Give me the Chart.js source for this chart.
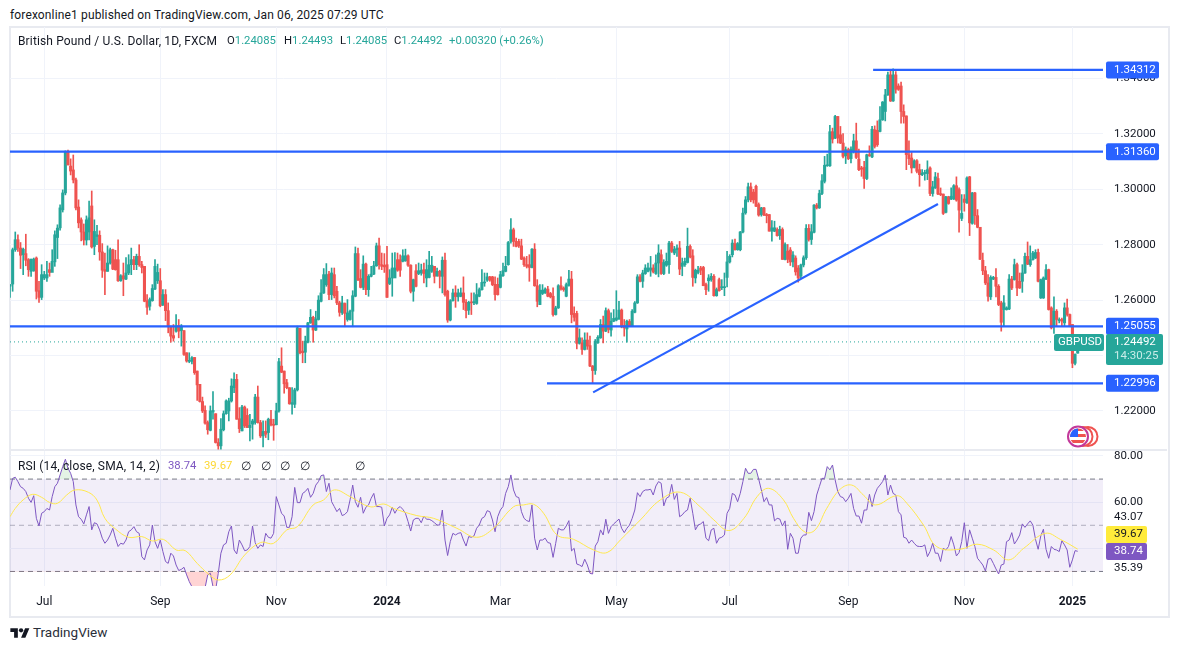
<!DOCTYPE html>
<html>
<head>
<meta charset="utf-8">
<title>GBPUSD</title>
<script src="https://cdn.jsdelivr.net/npm/chart.js@4"></script>
<style>
  html, body { margin: 0; padding: 0; background: #fff; }
  body { width: 1177px; height: 650px; overflow: hidden; position: relative; font-family: Roboto, sans-serif; color: #131722; }
  .t { position: absolute; font-size: 12px; line-height: 14px; white-space: pre; }
  .wide { letter-spacing: 0.14px; }
  .val { font-size: 11.3px; }
  canvas { position: absolute; }
  #frame { position: absolute; left: 9px; top: 26px; width: 1157px; height: 588px; border: 2px solid #e8eaf0; }
  #sep { position: absolute; left: 10px; top: 449px; width: 1157px; height: 2px; background: #e8eaf0; }
  .up { color: #26a69a; }
</style>
</head>
<body>
<div id="frame"></div>
<div id="sep"></div>
<canvas id="priceChart" style="left:10px;top:27px" width="1157" height="423"></canvas>
<canvas id="rsiChart" style="left:10px;top:451px" width="1157" height="164"></canvas>

<div class="t wide" style="left:10px;top:8px">forexonline1 published on TradingView.com, Jan 06, 2025 07:29 UTC</div>
<div class="t wide" style="left:18px;top:34px">British Pound / U.S. Dollar, 1D, FXCM</div>
<div class="t val" style="left:227px;top:34px">O<span class="up">1.24085</span></div>
<div class="t val" style="left:284px;top:34px">H<span class="up">1.24493</span></div>
<div class="t val" style="left:340px;top:34px">L<span class="up">1.24085</span></div>
<div class="t val" style="left:394px;top:34px">C<span class="up">1.24492</span></div>
<div class="t val up" style="left:449px;top:34px">+0.00320 (+0.26%)</div>

<div class="t wide" style="left:18px;top:459px">RSI (14, close, SMA, 14, 2)</div>
<div class="t val" style="left:168px;top:459px;color:#7e57c2">38.74</div>
<div class="t val" style="left:204px;top:459px;color:#fdd835">39.67</div>
<div class="t" style="left:241px;top:459px">∅</div>
<div class="t" style="left:261px;top:459px">∅</div>
<div class="t" style="left:280px;top:459px">∅</div>
<div class="t" style="left:300px;top:459px">∅</div>
<div class="t" style="left:355px;top:459px">∅</div>

<svg style="position:absolute;left:10px;top:626px" width="20" height="15" viewBox="0 0 36 28"><path fill="#131722" d="M14 22H7V11H0V4h14v18zM28 22h-8l7.5-18h8L28 22z"/><circle fill="#131722" cx="20" cy="8" r="4"/></svg>
<div class="t" style="left:33px;top:624px;font-size:13.5px;line-height:16px;color:#2a2e39">TradingView</div>

<svg style="position:absolute;left:1066px;top:425px" width="34" height="24" viewBox="0 0 34 24">
  <circle cx="22" cy="11.5" r="9.5" fill="#fff" stroke="#ef5350" stroke-width="2"/>
  <circle cx="17" cy="11.5" r="9.5" fill="#fff" stroke="#ef5350" stroke-width="2"/>
  <circle cx="12" cy="11.5" r="10" fill="#fff" stroke="#c2389a" stroke-width="2"/>
  <clipPath id="flag"><circle cx="12" cy="11.5" r="8"/></clipPath>
  <g clip-path="url(#flag)">
    <rect x="3" y="3" width="18" height="3" fill="#ef5350"/>
    <rect x="3" y="9" width="18" height="3" fill="#ef5350"/>
    <rect x="3" y="15" width="18" height="3" fill="#ef5350"/>
    <rect x="3" y="3" width="9" height="9" fill="#2962ff"/>
  </g>
</svg>

<script>
// daily candles (one value per trading day, Jun 2023 - Jan 6 2025)
const opens = [
1.2650,1.2658,1.2782,1.2818,1.2788,1.2764,1.2768,1.2746,1.2704,1.2706,
1.2752,1.2634,1.2610,1.2680,1.2680,1.2710,1.2700,1.2738,1.2826,1.2861,
1.2926,1.2987,1.3135,1.3084,1.3070,1.3034,1.2936,1.2890,1.2846,1.2817,
1.2846,1.2940,1.2794,1.2830,1.2834,1.2774,1.2710,1.2704,1.2734,1.2782,
1.2746,1.2746,1.2670,1.2688,1.2676,1.2698,1.2728,1.2746,1.2728,1.2758,
1.2728,1.2722,1.2598,1.2578,1.2598,1.2640,1.2670,1.2670,1.2584,1.2620,
1.2562,1.2506,1.2472,1.2488,1.2508,1.2490,1.2490,1.2410,1.2379,1.2379,
1.2393,1.2344,1.2296,1.2234,1.2202,1.2158,1.2130,1.2196,1.2190,1.2086,
1.2074,1.2132,1.2190,1.2200,1.2236,1.2284,1.2314,1.2172,1.2128,1.2214,
1.2184,1.2140,1.2152,1.2158,1.2250,1.2158,1.2110,1.2126,1.2122,1.2170,
1.2152,1.2150,1.2200,1.2362,1.2344,1.2302,1.2284,1.2224,1.2224,1.2276,
1.2498,1.2416,1.2412,1.2448,1.2518,1.2538,1.2492,1.2530,1.2596,1.2626,
1.2656,1.2694,1.2620,1.2692,1.2632,1.2590,1.2554,1.2588,1.2530,1.2530,
1.2560,1.2614,1.2768,1.2678,1.2646,1.2730,1.2638,1.2686,1.2694,1.2724,
1.2796,1.2728,1.2726,1.2728,1.2660,1.2680,1.2680,1.2746,1.2746,1.2740,
1.2742,1.2760,1.2726,1.2632,1.2706,1.2696,1.2698,1.2710,1.2680,1.2682,
1.2704,1.2722,1.2688,1.2704,1.2686,1.2744,1.2632,1.2528,1.2598,1.2626,
1.2612,1.2614,1.2626,1.2592,1.2564,1.2592,1.2591,1.2588,1.2614,1.2638,
1.2662,1.2672,1.2684,1.2684,1.2657,1.2657,1.2646,1.2688,1.2704,1.2728,
1.2812,1.2854,1.2812,1.2812,1.2796,1.2752,1.2728,1.2728,1.2718,1.2784,
1.2652,1.2584,1.2624,1.2626,1.2640,1.2624,1.2614,1.2548,1.2572,1.2652,
1.2644,1.2614,1.2653,1.2676,1.2552,1.2552,1.2444,1.2446,1.2422,1.2456,
1.2436,1.2362,1.2346,1.2446,1.2464,1.2512,1.2488,1.2562,1.2492,1.2524,
1.2528,1.2532,1.2564,1.2508,1.2496,1.2523,1.2506,1.2556,1.2590,1.2684,
1.2668,1.2696,1.2704,1.2708,1.2716,1.2696,1.2734,1.2764,1.2696,1.2726,
1.2728,1.2806,1.2770,1.2782,1.2788,1.2722,1.2728,1.2736,1.2794,1.2760,
1.2680,1.2700,1.2716,1.2718,1.2656,1.2670,1.2674,1.2686,1.2616,1.2674,
1.2645,1.2645,1.2682,1.2738,1.2764,1.2804,1.2782,1.2782,1.2846,1.2915,
1.2962,1.3009,1.2990,
1.3011,1.2945,1.2909,1.2933,1.2909,1.2909,1.2849,1.2849,1.2855,1.2833,
1.2855,1.2747,1.2777,1.2781,1.2738,1.2752,1.2716,1.2687,1.2727,1.2753,
1.2859,1.2819,1.2845,1.2943,1.2933,1.2985,1.3029,1.3085,1.3085,1.3208,
1.3185,1.3263,1.3197,1.3167,1.3121,1.3143,1.3111,1.3137,1.3175,1.3109,
1.3077,1.3079,1.3039,1.3125,1.3117,1.3215,1.3213,1.3209,1.3251,1.3281,
1.3341,1.3413,1.3319,1.3413,1.3373,1.3373,1.3281,1.3265,1.3125,1.3113,
1.3079,1.3103,1.3071,1.3053,1.3057,1.3057,1.3077,1.2985,1.3005,1.3039,
1.2983,1.2983,1.2917,1.2973,1.2965,1.2965,1.3013,1.2999,1.2895,1.2965,
1.2951,1.3045,1.2877,1.2987,1.2905,1.2863,
1.2744,1.2706,1.2662,1.2612,1.2676,1.2682,1.2650,1.2590,1.2566,1.2566,
1.2568,1.2676,1.2674,1.2728,1.2668,1.2668,1.2698,1.2758,1.2728,1.2746,
1.2752,1.2772,1.2608,1.2608,1.2676,1.2710,1.2572,1.2506,1.2560,1.2526,
1.2530,1.2518,1.2572,1.2548,1.2512,1.2372,1.24085
];
const highs = [
1.2656,1.2788,1.2846,1.2836,1.2808,1.2788,1.2838,1.2750,1.2748,1.2752,
1.2756,1.2668,1.2728,1.2704,1.2740,1.2734,1.2782,1.2850,1.2872,1.2944,
1.2998,1.3139,1.3142,1.3110,1.3124,1.3041,1.2962,1.2897,1.2875,1.2904,
1.2958,1.2994,1.2890,1.2870,1.2850,1.2804,1.2770,1.2796,1.2788,1.2784,
1.2780,1.2818,1.2692,1.2734,1.2754,1.2764,1.2788,1.2758,1.2766,1.2800,
1.2740,1.2722,1.2620,1.2608,1.2656,1.2746,1.2730,1.2714,1.2638,1.2638,
1.2590,1.2506,1.2512,1.2548,1.2530,1.2512,1.2490,1.2410,1.2410,1.2396,
1.2393,1.2344,1.2296,1.2250,1.2218,1.2164,1.2218,1.2270,1.2190,1.2100,
1.2172,1.2200,1.2240,1.2246,1.2316,1.2338,1.2332,1.2212,1.2220,1.2218,
1.2208,1.2188,1.2170,1.2260,1.2290,1.2166,1.2164,1.2164,1.2174,1.2202,
1.2170,1.2228,1.2390,1.2428,1.2344,1.2314,1.2284,1.2284,1.2282,1.2506,
1.2498,1.2452,1.2470,1.2520,1.2566,1.2542,1.2560,1.2616,1.2674,1.2714,
1.2732,1.2704,1.2716,1.2716,1.2650,1.2596,1.2614,1.2590,1.2602,1.2564,
1.2634,1.2792,1.2788,1.2710,1.2760,1.2734,1.2692,1.2722,1.2740,1.2806,
1.2824,1.2770,1.2768,1.2794,1.2710,1.2770,1.2772,1.2770,1.2764,1.2782,
1.2784,1.2764,1.2728,1.2676,1.2728,1.2734,1.2730,1.2734,1.2746,1.2776,
1.2758,1.2722,1.2716,1.2708,1.2756,1.2770,1.2636,1.2602,1.2640,1.2652,
1.2640,1.2644,1.2684,1.2602,1.2596,1.2626,1.2626,1.2660,1.2644,1.2710,
1.2698,1.2698,1.2686,1.2686,1.2684,1.2680,1.2704,1.2734,1.2758,1.2812,
1.2894,1.2860,1.2824,1.2820,1.2820,1.2756,1.2758,1.2764,1.2786,1.2804,
1.2674,1.2656,1.2656,1.2644,1.2650,1.2628,1.2644,1.2578,1.2656,1.2684,
1.2648,1.2662,1.2708,1.2704,1.2576,1.2560,1.2496,1.2464,1.2482,1.2482,
1.2470,1.2364,1.2458,1.2472,1.2530,1.2542,1.2572,1.2568,1.2554,1.2566,
1.2634,1.2596,1.2568,1.2530,1.2528,1.2530,1.2566,1.2595,1.2692,1.2692,
1.2708,1.2728,1.2734,1.2758,1.2728,1.2764,1.2800,1.2782,1.2746,1.2770,
1.2812,1.2812,1.2794,1.2800,1.2812,1.2752,1.2752,1.2860,1.2800,1.2782,
1.2712,1.2722,1.2722,1.2722,1.2662,1.2692,1.2696,1.2692,1.2644,1.2680,
1.2674,1.2698,1.2776,1.2764,1.2818,1.2820,1.2808,1.2848,1.2932,1.2974,
1.3023,1.3023,1.3000,
1.3015,1.2951,1.2935,1.2935,1.2913,1.2909,1.2887,1.2885,1.2861,1.2867,
1.2861,1.2807,1.2801,1.2790,1.2775,1.2760,1.2725,1.2730,1.2760,1.2873,
1.2873,1.2873,1.2945,1.2949,1.2997,1.3053,1.3119,1.3127,1.3231,1.3221,
1.3267,1.3263,1.3227,1.3201,1.3153,1.3149,1.3153,1.3199,1.3239,1.3145,
1.3083,1.3101,1.3127,1.3157,1.3227,1.3229,1.3247,1.3299,1.3317,1.3361,
1.3423,1.3433,1.3435,1.3425,1.3381,1.3387,1.3305,1.3265,1.3175,1.3133,
1.3107,1.3107,1.3091,1.3071,1.3069,1.3103,1.3081,1.3029,1.3061,1.3059,
1.3005,1.2983,1.2975,1.2975,1.3005,1.3017,1.3045,1.3005,1.2981,1.2981,
1.3045,1.3047,1.2989,1.2989,1.2927,1.2863,
1.2770,1.2722,1.2692,1.2688,1.2686,1.2714,1.2656,1.2596,1.2616,1.2576,
1.2692,1.2686,1.2748,1.2734,1.2698,1.2728,1.2770,1.2810,1.2796,1.2776,
1.2782,1.2784,1.2676,1.2684,1.2728,1.2712,1.2576,1.2612,1.2566,1.2536,
1.2535,1.2590,1.2604,1.2550,1.2512,1.2406,1.24493
];
const lows = [
1.2610,1.2632,1.2776,1.2776,1.2714,1.2692,1.2724,1.2686,1.2686,1.2704,
1.2604,1.2592,1.2602,1.2674,1.2668,1.2686,1.2720,1.2722,1.2750,1.2853,
1.2918,1.2980,1.3088,1.3052,1.3023,1.2926,1.2861,1.2814,1.2799,1.2799,
1.2817,1.2788,1.2764,1.2800,1.2744,1.2682,1.2620,1.2704,1.2730,1.2710,
1.2708,1.2668,1.2668,1.2616,1.2674,1.2692,1.2692,1.2710,1.2710,1.2722,
1.2698,1.2594,1.2548,1.2564,1.2596,1.2638,1.2660,1.2576,1.2580,1.2526,
1.2482,1.2448,1.2452,1.2484,1.2464,1.2434,1.2400,1.2376,1.2374,1.2370,
1.2332,1.2238,1.2232,1.2194,1.2152,1.2116,1.2128,1.2170,1.2084,1.2062,
1.2062,1.2128,1.2188,1.2164,1.2232,1.2266,1.2170,1.2122,1.2128,1.2140,
1.2140,1.2092,1.2098,1.2152,1.2156,1.2104,1.2070,1.2104,1.2096,1.2146,
1.2094,1.2150,1.2196,1.2338,1.2264,1.2280,1.2224,1.2188,1.2212,1.2272,
1.2406,1.2374,1.2374,1.2446,1.2516,1.2448,1.2490,1.2528,1.2594,1.2624,
1.2650,1.2602,1.2602,1.2608,1.2584,1.2542,1.2548,1.2504,1.2524,1.2528,
1.2504,1.2612,1.2670,1.2644,1.2638,1.2620,1.2614,1.2684,1.2692,1.2722,
1.2712,1.2710,1.2700,1.2610,1.2656,1.2614,1.2686,1.2704,1.2686,1.2738,
1.2740,1.2722,1.2626,1.2596,1.2648,1.2692,1.2690,1.2662,1.2648,1.2680,
1.2700,1.2662,1.2686,1.2644,1.2626,1.2614,1.2520,1.2525,1.2596,1.2574,
1.2596,1.2612,1.2566,1.2536,1.2548,1.2548,1.2584,1.2585,1.2612,1.2636,
1.2650,1.2668,1.2668,1.2652,1.2600,1.2618,1.2644,1.2686,1.2702,1.2726,
1.2806,1.2794,1.2792,1.2790,1.2746,1.2722,1.2716,1.2668,1.2716,1.2650,
1.2576,1.2584,1.2620,1.2624,1.2612,1.2608,1.2542,1.2546,1.2570,1.2636,
1.2632,1.2612,1.2650,1.2518,1.2524,1.2424,1.2441,1.2404,1.2420,1.2422,
1.2360,1.2302,1.2332,1.2444,1.2462,1.2446,1.2486,1.2482,1.2470,1.2522,
1.2525,1.2530,1.2500,1.2470,1.2448,1.2504,1.2504,1.2554,1.2588,1.2666,
1.2646,1.2693,1.2702,1.2686,1.2698,1.2693,1.2684,1.2693,1.2692,1.2722,
1.2696,1.2772,1.2764,1.2758,1.2692,1.2688,1.2722,1.2734,1.2752,1.2650,
1.2662,1.2695,1.2692,1.2652,1.2620,1.2632,1.2668,1.2614,1.2614,1.2632,
1.2638,1.2616,1.2648,1.2734,1.2756,1.2780,1.2780,1.2778,1.2843,1.2910,
1.2955,1.2955,1.2950,
1.2937,1.2903,1.2903,1.2905,1.2879,1.2849,1.2813,1.2847,1.2831,1.2819,
1.2747,1.2745,1.2735,1.2725,1.2720,1.2690,1.2665,1.2680,1.2720,1.2747,
1.2813,1.2801,1.2843,1.2929,1.2931,1.2981,1.3023,1.3083,1.3083,1.3167,
1.3183,1.3167,1.3165,1.3113,1.3093,1.3107,1.3095,1.3131,1.3111,1.3067,
1.3047,1.3003,1.3035,1.3119,1.3114,1.3149,1.3155,1.3207,1.3249,1.3247,
1.3339,1.3317,1.3317,1.3347,1.3357,1.3239,1.3239,1.3071,1.3089,1.3059,
1.3077,1.3059,1.3011,1.3049,1.3033,1.3035,1.2977,1.2975,1.3003,1.2981,
1.2977,1.2909,1.2915,1.2946,1.2963,1.2963,1.2957,1.2845,1.2887,1.2921,
1.2949,1.2833,1.2874,1.2873,1.2861,1.2747,
1.2692,1.2656,1.2596,1.2602,1.2674,1.2612,1.2580,1.2488,1.2508,1.2564,
1.2566,1.2638,1.2672,1.2616,1.2642,1.2628,1.2696,1.2728,1.2722,1.2744,
1.2750,1.2666,1.2606,1.2606,1.2674,1.2564,1.2496,1.2480,1.2506,1.2518,
1.2504,1.2506,1.2542,1.2504,1.2356,1.2366,1.24085
];
const closes = [
1.2656,1.2782,1.2818,1.2788,1.2762,1.2784,1.2744,1.2710,1.2748,1.2748,
1.2632,1.2610,1.2692,1.2692,1.2692,1.2700,1.2740,1.2836,1.2860,1.2933,
1.2987,1.3135,1.3088,1.3066,1.3034,1.2933,1.2879,1.2846,1.2817,1.2890,
1.2897,1.2792,1.2848,1.2836,1.2774,1.2708,1.2704,1.2734,1.2782,1.2712,
1.2710,1.2670,1.2688,1.2676,1.2698,1.2728,1.2746,1.2728,1.2758,1.2728,
1.2718,1.2596,1.2574,1.2602,1.2642,1.2722,1.2700,1.2580,1.2620,1.2562,
1.2506,1.2470,1.2463,1.2506,1.2488,1.2506,1.2404,1.2380,1.2382,1.2392,
1.2338,1.2294,1.2234,1.2200,1.2156,1.2132,1.2200,1.2202,1.2086,1.2074,
1.2134,1.2190,1.2236,1.2236,1.2290,1.2314,1.2170,1.2136,1.2214,1.2146,
1.2140,1.2148,1.2164,1.2250,1.2158,1.2110,1.2126,1.2116,1.2170,1.2150,
1.2148,1.2200,1.2378,1.2340,1.2298,1.2284,1.2226,1.2230,1.2276,1.2500,
1.2410,1.2410,1.2452,1.2518,1.2538,1.2492,1.2532,1.2600,1.2626,1.2692,
1.2692,1.2620,1.2698,1.2616,1.2590,1.2556,1.2590,1.2552,1.2554,1.2560,
1.2616,1.2768,1.2674,1.2646,1.2730,1.2638,1.2686,1.2694,1.2724,1.2796,
1.2728,1.2722,1.2720,1.2610,1.2680,1.2716,1.2716,1.2708,1.2708,1.2760,
1.2760,1.2726,1.2632,1.2674,1.2650,1.2706,1.2708,1.2696,1.2710,1.2726,
1.2726,1.2686,1.2704,1.2686,1.2744,1.2620,1.2528,1.2598,1.2626,1.2613,
1.2626,1.2626,1.2592,1.2562,1.2592,1.2590,1.2593,1.2620,1.2638,1.2664,
1.2664,1.2684,1.2672,1.2656,1.2620,1.2620,1.2692,1.2706,1.2722,1.2808,
1.2854,1.2812,1.2794,1.2796,1.2748,1.2728,1.2722,1.2718,1.2784,1.2652,
1.2596,1.2636,1.2636,1.2640,1.2614,1.2612,1.2548,1.2572,1.2652,1.2640,
1.2638,1.2656,1.2676,1.2548,1.2538,1.2444,1.2464,1.2422,1.2456,1.2434,
1.2362,1.2346,1.2452,1.2466,1.2512,1.2488,1.2562,1.2494,1.2524,1.2534,
1.2536,1.2564,1.2504,1.2500,1.2524,1.2506,1.2560,1.2590,1.2684,1.2668,
1.2698,1.2716,1.2716,1.2716,1.2702,1.2734,1.2770,1.2696,1.2736,1.2740,
1.2806,1.2776,1.2784,1.2788,1.2712,1.2734,1.2740,1.2794,1.2756,1.2682,
1.2708,1.2708,1.2708,1.2652,1.2638,1.2680,1.2686,1.2616,1.2638,1.2634,
1.2648,1.2648,1.2738,1.2758,1.2806,1.2782,1.2804,1.2846,1.2914,1.2962,
1.3009,1.2962,1.2962,
1.2939,1.2907,1.2933,1.2907,1.2905,1.2849,1.2861,1.2861,1.2833,1.2855,
1.2747,1.2801,1.2747,1.2738,1.2763,1.2702,1.2680,1.2727,1.2753,1.2859,
1.2819,1.2847,1.2943,1.2933,1.2985,1.3031,1.3087,1.3088,1.3208,1.3181,
1.3263,1.3185,1.3167,1.3119,1.3143,1.3111,1.3145,1.3175,1.3115,1.3071,
1.3073,1.3039,1.3125,1.3121,1.3217,1.3155,1.3161,1.3251,1.3315,1.3341,
1.3413,1.3319,1.3413,1.3361,1.3361,1.3281,1.3263,1.3125,1.3111,1.3077,
1.3103,1.3065,1.3053,1.3059,1.3061,1.3071,1.2985,1.3009,1.3045,1.2983,
1.2981,1.2913,1.2973,1.2949,1.2975,1.3013,1.2961,1.2925,1.2913,1.2953,
1.3041,1.2879,1.2987,1.2905,1.2863,1.2747,
1.2706,1.2662,1.2614,1.2682,1.2682,1.2650,1.2584,1.2520,1.2590,1.2572,
1.2676,1.2644,1.2728,1.2644,1.2644,1.2698,1.2758,1.2730,1.2746,1.2770,
1.2772,1.2668,1.2674,1.2680,1.2710,1.2566,1.2500,1.2560,1.2530,1.2530,
1.2524,1.2572,1.2548,1.2506,1.2372,1.2404,1.24492
];

// RSI (14), read bar by bar from the lower pane
const rsiValues = [
65.3,70.3,70.8,68.9,66.7,66,64.6,61.7,59.9,62.8,
53,49.7,55.2,55.9,57.3,56.6,62.4,66.7,68.2,71.8,
75.4,78.6,74.7,72.5,68.9,58.8,53.7,52.6,50.6,54.5,
58.1,48,51.1,50.6,48,44.4,42.2,43.6,45.8,48.7,
44.4,40.8,42.2,41.8,43.6,47.2,48,49.4,47.2,46.5,
36.4,35,39.3,41.5,50.1,42.9,40,43.6,38.6,34.3,
33.5,37.9,36.7,32.8,30.4,30.9,31.8,28.5,25.6,23.4,
22,22,21,22,23,28.5,29.2,23.4,22,29.2,
37.9,41.5,42.2,47.2,49.7,39.3,37.6,43.6,41.5,39,
39.3,40.8,49.7,42.5,40,41.5,40.8,46.5,44.8,44.4,
46.5,62.4,58.8,55.2,54,49.1,49.1,53.7,66.4,59.8,
59.8,63.8,64.6,66,62.1,63.8,67.4,68.9,71.5,71.8,
64.6,68.2,60.2,58.1,55.9,57.3,54.2,54.7,55.9,61,
67.4,60.2,57.8,62.1,55.2,57.8,58.8,61.7,63.8,58.1,
58.1,57.8,49.7,53,54.5,57.8,55.2,57.3,58.1,56.9,
55.2,51.6,47.5,52.3,53,53,51.1,54,52.6,52.6,
52,51.1,50.1,50.1,56.6,43.6,36.9,42.9,46.5,45.8,
46.5,46.8,43.6,41,45.1,44.8,45.4,48.7,50.1,53,
53.7,56.3,55.9,52.3,47.2,53.7,56.6,58.1,63.8,66.7,
71.8,65.3,62.4,62,55.9,53,52,51.6,58.8,44.4,
39.3,43.6,43.6,44.4,42.5,42.2,36.1,42.2,48.7,48,
48,49.7,52,38.9,40,33.2,32.8,32.1,35.3,32.8,
29.2,28.9,41,42.9,48,45.8,52.6,46.5,49.4,50.6,
51.6,52.7,48.7,46.8,48.7,50.1,53,56.6,64.1,62.4,
64.6,65.3,65.3,65.6,63.1,67,68.9,68.2,58.4,61.7,
62.4,67.7,61.2,63.8,53.7,54.5,55.9,56.6,61.7,55.2,
48,50.1,50.6,51.6,44.4,43.3,48,48.7,42.2,44.4,
44.8,45.8,55.2,57.3,63.8,63.1,60.2,63.8,68.9,74.7,
72.5,72.5,74.2,74.2,70,
65.3,60.2,62,58.8,58.8,51.9,53,52.7,49.7,51.9,
39.6,46.5,44.4,37.9,37.9,44.4,45.8,45.8,55.6,52,
55.9,63.1,66.7,70.3,70.3,75.4,74,76.1,69.6,64.6,
62.4,62,60.2,61.7,63.8,57.3,54,54,50.9,56.6,
56.6,63.4,58.1,63.1,66,67.4,68.9,71.8,63.1,67.4,
63.8,63.1,55.9,54.5,44.8,44.4,42.2,43.6,42.2,41,
40.8,40.8,41.5,36.4,38.6,42.2,37.9,37.9,34.3,40,
39.3,40.8,45.1,41.5,36.7,38.2,42.9,51.1,40,48,
44.4,40.8,35.7,34.3,32.8,30.2,35.3,35.7,33.5,31.1,
28.9,32.8,33.2,42.9,43.6,46.8,41.9,43.6,45.8,50.6,
49.1,50.6,51.9,50.1,43.9,39.6,45.4,48.3,39.6,35.7,
40.8,39.6,39.3,38.6,43.3,41.5,39.3,31.8,35,39,
38.74
];

// RSI moving average, read at these bars
const smaBars = [0,2,5,8.6,12,15,18,21.5,24.7,29.7,33,36,40,45,50,54,58.2,63,66.5,71,75.3,79,83.5,89,95,100,105,109,115,119,123,129,136.6,141.8,145.5,154.3,160.7,169.5,177,183.4,191,194.8,198.6,202.4,207.5,213.8,221.4,226.5,231.5,239.1,246.7,254.3,262,267,272.7,278.4,283.4,287.8,293.4,297.2,301.6,305.4,309.8,314.9,319.3,323.7,328.2,336.4,340.2,346.5,351.6,360.4,366.8,373.1,378.8,384.5,392.7,398.4,405];
const smaValues = [53.7,57.3,61,63.4,62.1,59.9,59.5,63.1,65.3,64.3,60.9,53,48.4,44.8,45.1,43.2,43.9,39.3,39,33.5,28.9,26.3,28.5,37.1,42.5,42.2,48,49.4,58.8,61,65.3,62.4,58,59.2,57.3,54.2,53,48.7,44.8,48.7,58,58.8,59.1,55.2,45.8,43.9,39.3,38.2,43.6,52.3,61,64.3,57.8,52.3,47.7,53,62.4,66,61,53,47,48,57.3,65.6,67.4,63.1,58.8,62.8,59.5,50.1,40.7,39.6,41.8,39.3,35,40,46.5,43.9,39.67];

const barsShown = 414.6;
const priceTicks = [1.22,1.24,1.26,1.28,1.30,1.32,1.34];
const rsiTicks = [60,80,40];
const rsiBands = [70,50,30];

// horizontal levels and the trend line drawn on the chart
const levelTop = { bars: [327.4, barsShown], prices: [1.34312, 1.34312] };
const levelHigh = { bars: [0, barsShown], prices: [1.3136, 1.3136] };
const levelMid = { bars: [0, barsShown], prices: [1.25055, 1.25055] };
const levelLow = { bars: [203.7, barsShown], prices: [1.22996, 1.22996] };
const trendLine = { bars: [221.2, 352], prices: [1.2267, 1.2947] };
const lastPrice = 1.24492;

const timeBars = [13,57,101,143,186,230,273,318,362,403];
const timeLabels = ['Jul','Sep','Nov','2024','Mar','May','Jul','Sep','Nov','2025'];

const UP = '#26a69a', DOWN = '#ef5350', BLUE = '#2962ff', PURPLE = '#7e57c2', YELLOW = '#ffe84d';
const GRID = '#f0f3fa';
const FONT = 'Roboto, sans-serif';
const candleColors = closes.map((c, i) => c >= opens[i] ? UP : DOWN);

function toPoints(line) {
  return line.bars.map((b, i) => ({ x: b, y: line.prices[i] }));
}
function lineSet(line, color, width, extra) {
  return Object.assign({ type: 'line', data: toPoints(line), borderColor: color, borderWidth: width, pointRadius: 0, fill: false, tension: 0, order: 0 }, extra || {});
}
// no extra room around the scales, the panes must fill their canvas
function noPadding(scale) {
  scale.paddingTop = 0;
  scale.paddingBottom = 0;
  scale.paddingLeft = 0;
  scale.paddingRight = 0;
}

// price tags on the right hand scale
function tag(ctx, y, x, w, h, color, lines) {
  ctx.fillStyle = color;
  ctx.beginPath();
  ctx.roundRect(x, y, w, h, 2);
  ctx.fill();
  ctx.textBaseline = 'middle';
  ctx.textAlign = 'left';
  lines.forEach(l => {
    ctx.fillStyle = l.color;
    ctx.font = '11.5px ' + FONT;
    ctx.fillText(l.text, x + (l.pad || 8), y + l.dy);
  });
}

const priceTags = {
  id: 'priceTags',
  afterDatasetsDraw(chart) {
    const { ctx, scales: { y } } = chart;
    ctx.save();
    [1.34312, 1.3136, 1.25055, 1.22996].forEach(p => {
      const py = y.getPixelForValue(p);
      tag(ctx, py - 8.5, 1096, 53, 17, BLUE, [{ text: p.toFixed(5), color: '#fff', dy: 8.5 }]);
    });
    const ly = y.getPixelForValue(lastPrice);
    tag(ctx, ly - 8, 1044, 50, 17, UP, [{ text: 'GBPUSD', color: '#fff', dy: 8.5, pad: 4 }]);
    tag(ctx, ly - 8, 1096, 57, 31, UP, [
      { text: lastPrice.toFixed(5), color: '#fff', dy: 8.5 },
      { text: '14:30:25', color: '#c9ece8', dy: 22 }
    ]);
    ctx.restore();
  }
};

const rsiTags = {
  id: 'rsiTags',
  afterDatasetsDraw(chart) {
    const { ctx } = chart;
    ctx.save();
    ctx.font = '11.5px ' + FONT;
    ctx.textBaseline = 'middle';
    ctx.fillStyle = '#131722';
    ctx.fillText('43.07', 1104, 66);
    ctx.fillText('35.39', 1104, 117);
    tag(ctx, 75, 1096, 41, 17, '#ffeb3b', [{ text: '39.67', color: '#131722', dy: 8.5 }]);
    tag(ctx, 92, 1096, 41, 17, PURPLE, [{ text: '38.74', color: '#fff', dy: 8.5 }]);
    ctx.restore();
  }
};

new Chart(document.getElementById('priceChart'), {
  type: 'bar',
  plugins: [priceTags],
  data: {
    datasets: [
      lineSet(levelTop, BLUE, 2.2),
      lineSet(levelHigh, BLUE, 2.2),
      lineSet(levelMid, BLUE, 2.2),
      lineSet(levelLow, BLUE, 2.2),
      lineSet(trendLine, BLUE, 2.2),
      {
        data: opens.map((o, i) => ({ x: i, y: [o, closes[i]] })),
        backgroundColor: candleColors,
        barThickness: 2.4,
        minBarLength: 1,
        grouped: false,
        order: 1
      },
      {
        data: opens.map((o, i) => ({ x: i, y: [lows[i], highs[i]] })),
        backgroundColor: candleColors,
        barThickness: 1,
        grouped: false,
        order: 2
      },
      lineSet({ bars: [0, barsShown], prices: [lastPrice, lastPrice] }, UP, 1, { borderDash: [1, 3], order: 3 })
    ]
  },
  options: {
    responsive: false,
    animation: false,
    devicePixelRatio: 1,
    layout: { padding: 0 },
    plugins: { legend: { display: false }, tooltip: { enabled: false } },
    scales: {
      x: {
        type: 'linear',
        min: 0,
        max: barsShown,
        offset: false,
        grid: { color: GRID, drawTicks: false, offset: false },
        border: { display: false },
        ticks: { display: false },
        afterBuildTicks(scale) { scale.ticks = timeBars.map(v => ({ value: v })); },
        afterFit(scale) { scale.height = 0; noPadding(scale); }
      },
      y: {
        position: 'right',
        min: 1.2059,
        max: 1.3586,
        grid: { color: GRID, drawTicks: false },
        border: { display: false },
        afterBuildTicks(scale) { scale.ticks = priceTicks.map(v => ({ value: v })); },
        afterFit(scale) { scale.width = 64; noPadding(scale); },
        ticks: {
          padding: 11,
          color: '#131722',
          font: { family: FONT, size: 11.5 },
          callback: v => v.toFixed(5)
        }
      }
    }
  }
});

new Chart(document.getElementById('rsiChart'), {
  type: 'line',
  plugins: [rsiTags],
  data: {
    datasets: [
      {
        data: rsiValues.map((v, i) => ({ x: i, y: v })),
        borderColor: PURPLE, borderWidth: 1, pointRadius: 0, tension: 0, order: 1,
        fill: { target: { value: 30 }, above: 'transparent', below: 'rgba(255,82,82,0.25)' }
      },
      {
        data: rsiValues.map((v, i) => ({ x: i, y: v })),
        borderWidth: 0, pointRadius: 0, tension: 0, order: 2,
        fill: { target: { value: 70 }, above: 'rgba(76,175,80,0.15)', below: 'transparent' }
      },
      {
        data: smaBars.map((b, i) => ({ x: b, y: smaValues[i] })),
        borderColor: YELLOW, borderWidth: 1, pointRadius: 0, tension: 0.4, fill: false, order: 0
      },
      {
        data: [{ x: 0, y: rsiBands[0] }, { x: barsShown, y: rsiBands[0] }],
        borderColor: '#787b86', borderWidth: 1, borderDash: [5, 4], pointRadius: 0, order: 3,
        fill: { target: { value: rsiBands[2] }, above: 'rgba(126,87,194,0.1)' }
      },
      {
        data: [{ x: 0, y: rsiBands[1] }, { x: barsShown, y: rsiBands[1] }],
        borderColor: 'rgba(120,123,134,0.55)', borderWidth: 1, borderDash: [5, 4], pointRadius: 0, fill: false, order: 3
      },
      {
        data: [{ x: 0, y: rsiBands[2] }, { x: barsShown, y: rsiBands[2] }],
        borderColor: '#787b86', borderWidth: 1, borderDash: [5, 4], pointRadius: 0, fill: false, order: 3
      }
    ]
  },
  options: {
    responsive: false,
    animation: false,
    devicePixelRatio: 1,
    layout: { padding: 0 },
    plugins: { legend: { display: false }, tooltip: { enabled: false } },
    scales: {
      x: {
        type: 'linear',
        min: 0,
        max: barsShown,
        grid: { color: GRID, drawTicks: false },
        border: { display: false },
        afterBuildTicks(scale) { scale.ticks = timeBars.map(v => ({ value: v })); },
        afterFit(scale) { scale.height = 29; noPadding(scale); },
        ticks: {
          autoSkip: false,
          maxRotation: 0,
          padding: 9,
          color: '#131722',
          font: ctx => ({ family: FONT, size: 12, weight: timeLabels[ctx.index] && timeLabels[ctx.index].length === 4 ? 'bold' : 'normal' }),
          callback: (v, i) => timeLabels[i]
        }
      },
      y: {
        position: 'right',
        min: 23.7,
        max: 82.16,
        grid: { color: GRID, drawTicks: false },
        border: { display: false },
        afterBuildTicks(scale) { scale.ticks = rsiTicks.map(v => ({ value: v })); },
        afterFit(scale) { scale.width = 64; noPadding(scale); },
        ticks: {
          padding: 11,
          color: '#131722',
          font: { family: FONT, size: 11.5 },
          callback: v => v === 40 ? '' : v.toFixed(2)
        }
      }
    }
  }
});
</script>
</body>
</html>
